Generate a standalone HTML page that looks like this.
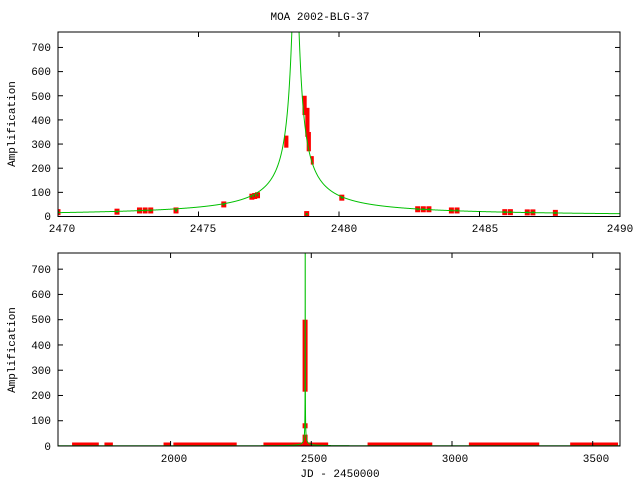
<!DOCTYPE html>
<html><head><style>
html,body{margin:0;padding:0;background:#fff;}
svg{display:block;font-family:"Liberation Mono","DejaVu Sans Mono",monospace;font-size:11px;}
</style></head><body>
<svg id="s" width="640" height="480" xmlns="http://www.w3.org/2000/svg">
<rect width="640" height="480" fill="#fff"/>
<text x="320" y="20" text-anchor="middle">MOA 2002-BLG-37</text>
<g id="top"></g><g id="bot"></g>
<g text-anchor="end">
<text x="51" y="220">0</text><text x="51" y="196">100</text><text x="51" y="172">200</text><text x="51" y="148">300</text><text x="51" y="124">400</text><text x="51" y="100">500</text><text x="51" y="75">600</text><text x="51" y="51">700</text>
<text x="51" y="450">0</text><text x="51" y="424">100</text><text x="51" y="399">200</text><text x="51" y="374">300</text><text x="51" y="349">400</text><text x="51" y="323">500</text><text x="51" y="298">600</text><text x="51" y="273">700</text>
</g>
<g text-anchor="middle">
<text x="62" y="232">2470</text><text x="203" y="232">2475</text><text x="344" y="232">2480</text><text x="485" y="232">2485</text><text x="620" y="232">2490</text>
<text x="174" y="462">2000</text><text x="314" y="462">2500</text><text x="455" y="462">3000</text><text x="596" y="462">3500</text>
<text x="340" y="477">JD - 2450000</text>
</g>
<text transform="translate(15,124) rotate(-90)" text-anchor="middle">Amplification</text>
<text transform="translate(15,350) rotate(-90)" text-anchor="middle">Amplification</text>
</svg>
<script>
var NS="http://www.w3.org/2000/svg";
var T0=2478.45;
function el(p,t,a){var e=document.createElementNS(NS,t);for(var k in a)e.setAttribute(k,a[k]);p.appendChild(e);return e;}
function A(t){var u0=0.0009,tE=135;var u=Math.sqrt(u0*u0+Math.pow((t-T0)/tE,2));return (u*u+2)/(u*Math.sqrt(u*u+4));}
function panel(g,L,R,T,B,x0,x1,ymax,xt,yt,pts,bands,minw,minh){
 var fx=function(x){return L+(x-x0)/(x1-x0)*(R-L)};
 var fy=function(y){return B-y/ymax*(B-T)};
 var xs=[];var n=4000;
 for(var i=0;i<=n;i++)xs.push(x0+(x1-x0)*i/n);
 for(var j=-400;j<=400;j++)xs.push(T0+j*0.01);
 xs=xs.filter(function(x){return x>=x0&&x<=x1}).sort(function(a,b){return a-b});
 var d="";
 xs.forEach(function(x,i){var y=Math.min(A(x),ymax*1.05);d+=(i?"L":"M")+fx(x).toFixed(2)+" "+fy(y).toFixed(2);});
 var cp=el(g,"clipPath",{id:"c"+L+T});el(cp,"rect",{x:L,y:T,width:R-L,height:B-T});
 var gg=el(g,"g",{"clip-path":"url(#c"+L+T+")"});
 bands.forEach(function(b){var w=Math.max(minw,fx(b[1])-fx(b[0]));var xc=(fx(b[0])+fx(b[1]))/2;var h=Math.max(minh,fy(b[3])-fy(b[2]));el(gg,"rect",{x:xc-w/2,y:fy(b[3])-h,width:w,height:h,fill:"#f00"});});
 pts.forEach(function(p){el(gg,"rect",{x:fx(p[0])-2.5,y:fy(p[1])-3,width:5,height:6,fill:"#f00"});el(gg,"rect",{x:fx(p[0])-1,y:fy(p[1])-1,width:2,height:2,fill:"#0a0"});});
 el(gg,"path",{d:d,fill:"none",stroke:"#00c000","stroke-width":1});
 el(g,"rect",{x:L,y:T,width:R-L,height:B-T,fill:"none",stroke:"#000","stroke-width":1});
 xt.forEach(function(x){var X=fx(x);el(g,"line",{x1:X,x2:X,y1:B,y2:B-5,stroke:"#000"});el(g,"line",{x1:X,x2:X,y1:T,y2:T+5,stroke:"#000"});});
 yt.forEach(function(y){var Y=fy(y);el(g,"line",{x1:L,x2:L+5,y1:Y,y2:Y,stroke:"#000"});el(g,"line",{x1:R,x2:R-5,y1:Y,y2:Y,stroke:"#000"});});
}
var yt=[0,100,200,300,400,500,600,700];
var topPts=[[2470,18],[2472.1,20],[2472.9,25],[2473.1,25],[2473.3,25],[2474.2,25],[2475.9,50],[2476.9,82],[2477.0,85],[2477.1,88],[2478.85,10],[2480.1,78],[2482.8,30],[2483.0,30],[2483.2,30],[2484.0,25],[2484.2,25],[2485.9,18],[2486.1,18],[2486.7,17],[2486.9,17],[2487.7,15]];
var topBands=[[2478.05,2478.2,335,285],[2478.7,2478.85,500,420],[2478.8,2478.95,450,330],[2478.85,2479.0,350,270],[2479.0,2479.1,250,215]];
panel(document.getElementById("top"),58,620,32,216.5,2470,2490,764,[2470,2475,2480,2485,2490],yt,topPts,topBands,3,5);
var botBands=[[1650,1745,5,2],[1765,1795,5,2],[1975,2000,5,2],[2010,2235,5,2],[2330,2470,6,2],[2480,2560,8,2],[2700,2930,5,2],[3060,3310,5,2],[3420,3590,5,2],[2474,2482,500,215],[2474,2482,90,70],[2472,2484,45,0]];
panel(document.getElementById("bot"),58,620,253,446,1600,3597,764,[2000,2500,3000,3500],yt,[],botBands,5,3);
</script>
</body></html>
